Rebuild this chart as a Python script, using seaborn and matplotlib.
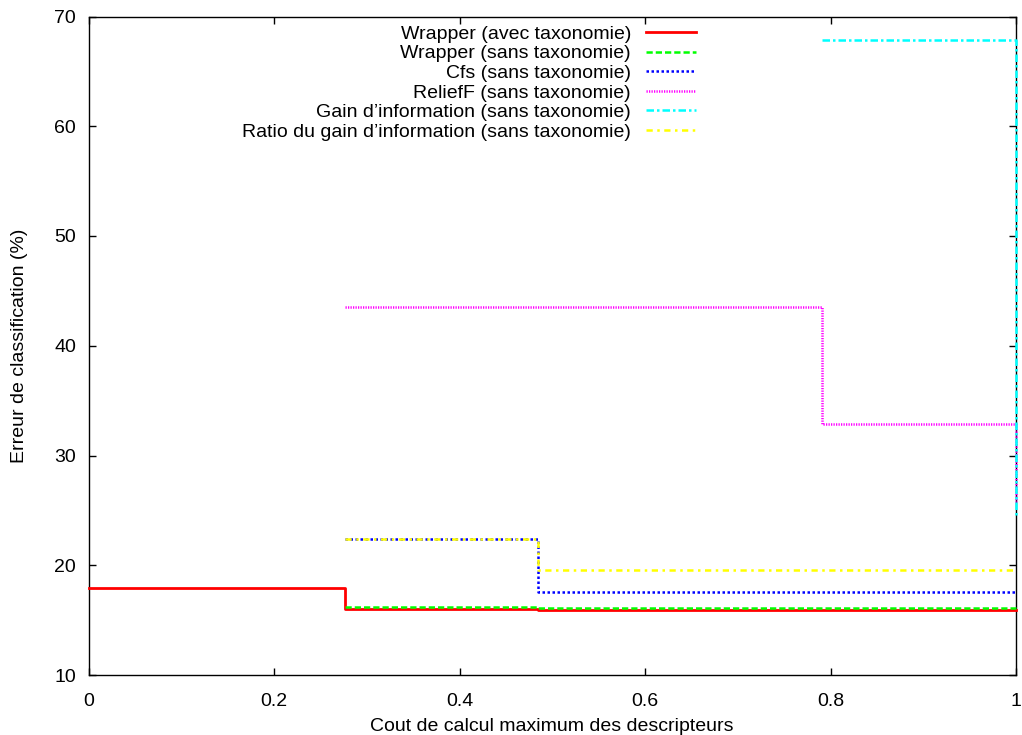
import matplotlib
matplotlib.use("Agg")
import matplotlib.pyplot as plt
import seaborn as sns
import pandas as pd

# ---- data ----
labels = [
    "Wrapper (avec taxonomie)",
    "Wrapper (sans taxonomie)",
    "Cfs (sans taxonomie)",
    "ReliefF (sans taxonomie)",
    "Gain d\u2019information (sans taxonomie)",
    "Ratio du gain d\u2019information (sans taxonomie)",
]
wrapper_avec_x = [0.0, 0.277, 0.485, 1.0]
wrapper_avec_y = [17.95, 16.05, 15.95, 15.95]
wrapper_sans_x = [0.277, 0.485, 1.0]
wrapper_sans_y = [16.2, 16.15, 16.1]
cfs_x = [0.277, 0.485, 1.0]
cfs_y = [22.4, 17.6, 17.6]
relieff_x = [0.277, 0.791, 1.0]
relieff_y = [43.5, 32.9, 25.8]
gain_x = [0.791, 1.0]
gain_y = [67.9, 24.3]
ratio_x = [0.277, 0.485, 1.0]
ratio_y = [22.4, 19.6, 19.6]

x_ticks = [0, 0.2, 0.4, 0.6, 0.8, 1.0]
x_tick_labels = ["0", "0.2", "0.4", "0.6", "0.8", "1"]
y_ticks = [10, 20, 30, 40, 50, 60, 70]

series = [
    (wrapper_avec_x, wrapper_avec_y),
    (wrapper_sans_x, wrapper_sans_y),
    (cfs_x, cfs_y),
    (relieff_x, relieff_y),
    (gain_x, gain_y),
    (ratio_x, ratio_y),
]
colors = ["#ff0000", "#00ff00", "#0000ff", "#ff00ff", "#00ffff", "#ffff00"]
styles = ["-", (0, (2.5, 1.2)), (0, (1.0, 1.0)), (0, (0.5, 0.5)), (0, (3, 1.2, 1, 1.2)), (0, (2.5, 1.8, 1, 1.8))]
widths = [2.0, 1.8, 1.8, 1.8, 1.8, 1.8]

plt.rcParams["font.family"] = ["Liberation Sans", "DejaVu Sans"]
plt.rcParams["font.size"] = 14

fig = plt.figure(figsize=(10.22, 7.35), dpi=100)
ax = fig.add_axes([88.5 / 1022, 1 - 675 / 735, (1016 - 88.5) / 1022, (675 - 16.5) / 735])

for (xs, ys), lab, c, ls, lw in zip(series, labels, colors, styles, widths):
    df = pd.DataFrame({"x": xs, "y": ys})
    sns.lineplot(data=df, x="x", y="y", estimator=None, sort=False,
                 drawstyle="steps-post", color=c, lw=lw, label=lab, ax=ax)
    ln = ax.lines[-1]
    ln.set_linestyle(ls)
    ln.set_clip_on(False)
    ln.set_zorder(3)

ax.set_xlim(0, 1)
ax.set_ylim(10, 70)
ax.set_xticks(x_ticks)
ax.set_xticklabels(x_tick_labels)
ax.set_yticks(y_ticks)
ax.tick_params(direction="in", length=5, width=1, top=True, right=True,
               labelsize=14, pad=9)
ax.tick_params(axis="x", pad=13)
for s in ax.spines.values():
    s.set_linewidth(1.0)
    s.set_zorder(1)
ax.set_xlabel("Cout de calcul maximum des descripteurs", fontsize=14, labelpad=6)
ax.set_ylabel("Erreur de classification (%)", fontsize=14, labelpad=19)

handles = ax.lines[:6]
leg = ax.legend(handles, labels, loc="upper right", bbox_to_anchor=((705 - 88.5) / 927.5, 1.0),
                frameon=False, markerfirst=False, handlelength=2.6, handletextpad=0.75,
                labelspacing=0.1, borderpad=0.45, borderaxespad=0, fontsize=14)
for t in leg.get_texts():
    t.set_ha("right")
leg._legend_box.align = "right"

fig.savefig("out.png", dpi=100)
